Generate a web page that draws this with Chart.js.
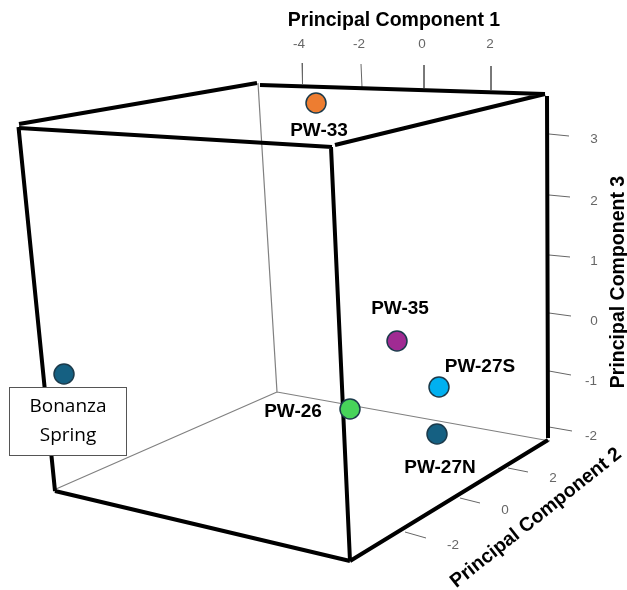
<!DOCTYPE html>
<html>
<head>
<meta charset="utf-8">
<title>PCA 3D scatter</title>
<script src="https://cdn.jsdelivr.net/npm/chart.js@4"></script>
<style>
  html, body { margin: 0; padding: 0; background: #fff; }
  canvas { display: block; }
</style>
</head>
<body>
<canvas id="chart" width="627" height="590"></canvas>
<script>
// --- DATA (in the flat 627x590 view of the 3D box) ---
const sampleNames = ['PW-33', 'PW-35', 'PW-27S', 'PW-27N', 'PW-26', 'Bonanza Spring'];
const sampleX = [316, 397, 439, 437, 350, 64];
const sampleY = [103, 341, 387, 434, 409, 374];
const sampleColors = ['#ED7D31', '#A02B93', '#00B0F0', '#156082', '#47D45A', '#156082'];

// box edges, null = pen up
const frameX = [19, 257, null, 260, 545, null, 545, 335, null, 19, 332, null, 18.5, 55, null, 55, 350, null, 331, 350, null, 350, 548, null, 547, 548];
const frameY = [124, 83, null, 85, 94, null, 94, 145, null, 128, 147, null, 127, 491, null, 491, 561, null, 147, 561, null, 561, 440, null, 96, 438];
const backX = [258, 277, null, 277, 550, null, 277, 56];
const backY = [83, 392, null, 392, 441, null, 392, 489];

// axis ticks
const pc1Ticks = ['-4', '-2', '0', '2'];
const pc1TickX = [302, 302.5, null, 361, 362, null, 424, 424, null, 491, 491];
const pc1TickY = [63, 84, null, 64, 87, null, 65, 88, null, 66, 90];
const pc1LabelX = [299, 359, 422, 490];
const pc1LabelY = [44, 44, 44, 44];

const pc3Ticks = ['3', '2', '1', '0', '-1', '-2'];
const pc3TickX = [549, 569, null, 549, 570, null, 549, 570, null, 549, 571, null, 549, 571, null, 549, 572];
const pc3TickY = [134, 136, null, 195, 197, null, 255, 257, null, 313, 316, null, 371, 375, null, 427, 431];
const pc3LabelX = [594, 594, 594, 594, 591, 591];
const pc3LabelY = [139, 201, 261, 321, 381, 436];

const pc2Ticks = ['2', '0', '-2'];
const pc2TickX = [508, 528, null, 460, 480, null, 405, 426];
const pc2TickY = [468, 472, null, 498, 503, null, 532, 538];
const pc2LabelX = [553, 505, 453];
const pc2LabelY = [478, 510, 545];

// sample label positions
const nameX = [319, 400, 480, 440, 293];
const nameY = [131, 309, 367, 468, 412];

const titleFont = 'bold 19.5px "Liberation Sans", sans-serif';
const nameFont = 'bold 19px "Liberation Sans", sans-serif';
const tickFont = '13.5px "Liberation Sans", sans-serif';
const boxFont = '19px "Open Sans", sans-serif';

function toPoints(xs, ys) {
    return xs.map((x, i) => ({ x: x, y: ys[i] }));
}

function lineSet(xs, ys, color, width) {
    return {
        data: toPoints(xs, ys),
        showLine: true,
        spanGaps: false,
        borderColor: color,
        borderWidth: width,
        pointRadius: 0
    };
}

// Labels, titles and the Bonanza Spring box
const annotations = {
    id: 'annotations',
    afterDatasetsDraw(chart) {
        const { ctx, scales } = chart;
        const px = v => scales.x.getPixelForValue(v);
        const py = v => scales.y.getPixelForValue(v);

        const text = (str, x, y, font, color, angle) => {
            ctx.save();
            ctx.translate(px(x), py(y));
            ctx.rotate((angle || 0) * Math.PI / 180);
            ctx.font = font;
            ctx.fillStyle = color;
            ctx.textAlign = 'center';
            ctx.textBaseline = 'middle';
            ctx.fillText(str, 0, 0);
            ctx.restore();
        };

        pc1Ticks.forEach((t, i) => text(t, pc1LabelX[i], pc1LabelY[i], tickFont, '#666', 0));
        pc3Ticks.forEach((t, i) => text(t, pc3LabelX[i], pc3LabelY[i], tickFont, '#666', 0));
        pc2Ticks.forEach((t, i) => text(t, pc2LabelX[i], pc2LabelY[i], tickFont, '#666', 0));

        text('Principal Component 1', 394, 21, titleFont, '#000', 0);
        text('Principal Component 3', 619, 282, titleFont, '#000', -90);
        text('Principal Component 2', 536, 518, titleFont, '#000', -38.5);

        nameX.forEach((x, i) => text(sampleNames[i], x, nameY[i], nameFont, '#000', 0));

        ctx.save();
        ctx.fillStyle = '#fff';
        ctx.strokeStyle = '#555';
        ctx.lineWidth = 1;
        ctx.fillRect(px(9), py(387), px(126) - px(9), py(455) - py(387));
        ctx.strokeRect(px(9) + 0.5, py(387) + 0.5, px(126) - px(9), py(455) - py(387));
        ctx.restore();
        text('Bonanza', 68, 407, boxFont, '#000', 0);
        text('Spring', 68, 436, boxFont, '#000', 0);
    }
};

new Chart(document.getElementById('chart'), {
    type: 'scatter',
    data: {
        datasets: [
            {
                data: toPoints(sampleX, sampleY),
                pointRadius: 10,
                pointBackgroundColor: sampleColors,
                pointBorderColor: '#1B3A4B',
                pointBorderWidth: 1.5
            },
            lineSet(frameX, frameY, '#000', 4),
            lineSet(backX, backY, '#808080', 1.2),
            lineSet(pc1TickX, pc1TickY, '#666', 1),
            lineSet(pc3TickX, pc3TickY, '#666', 1),
            lineSet(pc2TickX, pc2TickY, '#666', 1)
        ]
    },
    options: {
        responsive: false,
        animation: false,
        events: [],
        layout: { padding: 0, autoPadding: false },
        plugins: { legend: { display: false }, tooltip: { enabled: false } },
        scales: {
            x: { type: 'linear', display: false, min: 0, max: 627 },
            y: { type: 'linear', display: false, min: 0, max: 590, reverse: true }
        }
    },
    plugins: [annotations]
});
</script>
</body>
</html>
